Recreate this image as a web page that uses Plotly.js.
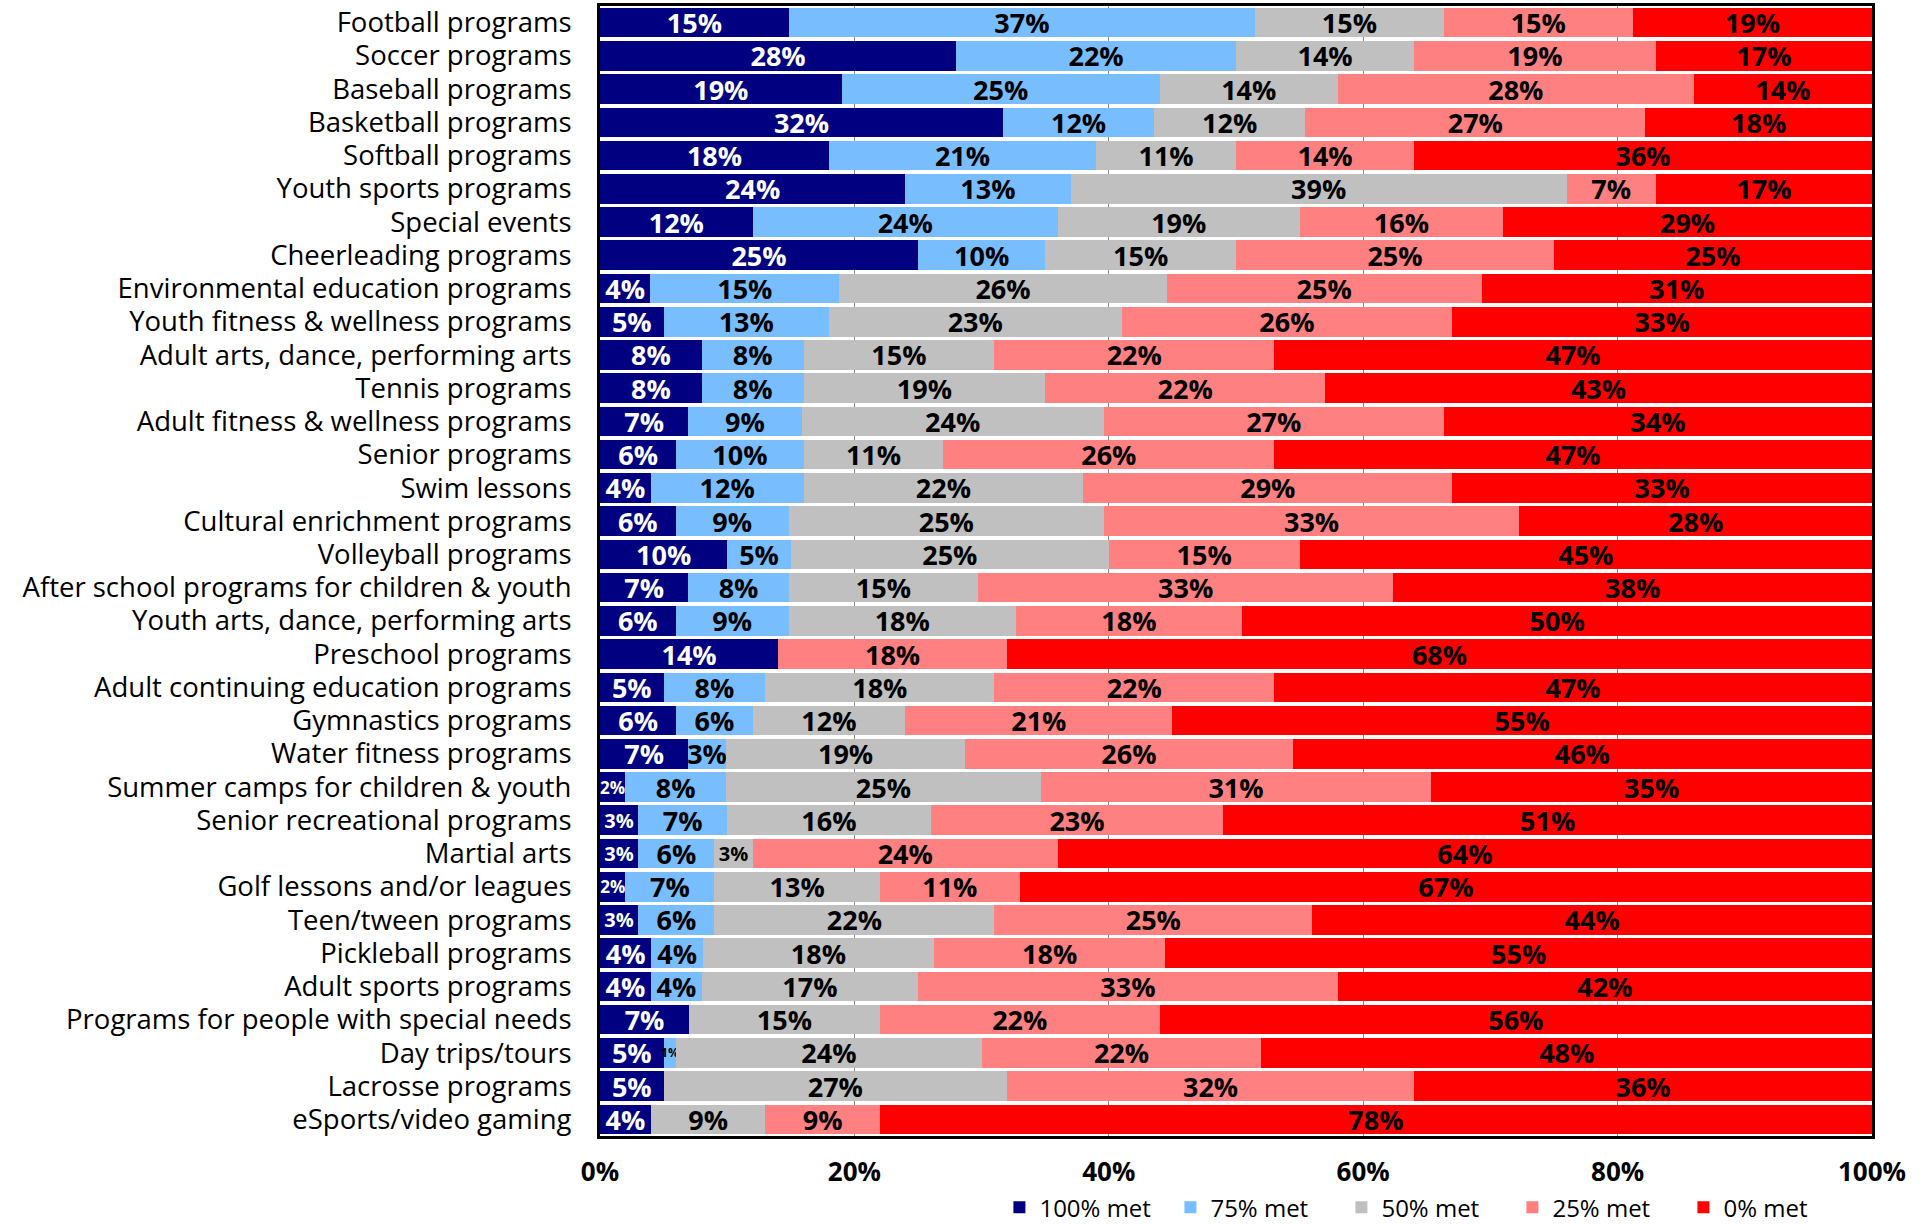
<!DOCTYPE html>
<html>
<head>
<meta charset="utf-8">
<script src="https://cdn.plot.ly/plotly-3.0.1.min.js"></script>
<style>html,body{margin:0;padding:0;background:#fff;}#chart{width:1927px;height:1224px;}</style>
</head>
<body>
<div id="chart"></div>
<script>
const categories = [
  "Football programs","Soccer programs","Baseball programs","Basketball programs","Softball programs",
  "Youth sports programs","Special events","Cheerleading programs","Environmental education programs",
  "Youth fitness & wellness programs","Adult arts, dance, performing arts","Tennis programs",
  "Adult fitness & wellness programs","Senior programs","Swim lessons","Cultural enrichment programs",
  "Volleyball programs","After school programs for children & youth","Youth arts, dance, performing arts",
  "Preschool programs","Adult continuing education programs","Gymnastics programs","Water fitness programs",
  "Summer camps for children & youth","Senior recreational programs","Martial arts",
  "Golf lessons and/or leagues","Teen/tween programs","Pickleball programs","Adult sports programs",
  "Programs for people with special needs","Day trips/tours","Lacrosse programs","eSports/video gaming"
];
const met100 = [15,28,19,32,18,24,12,25,4,5,8,8,7,6,4,6,10,7,6,14,5,6,7,2,3,3,2,3,4,4,7,5,5,4];
const met75  = [37,22,25,12,21,13,24,10,15,13,8,8,9,10,12,9,5,8,9,0,8,6,3,8,7,6,7,6,4,4,0,1,0,0];
const met50  = [15,14,14,12,11,39,19,15,26,23,15,19,24,11,22,25,25,15,18,0,18,12,19,25,16,3,13,22,18,17,15,24,27,9];
const met25  = [15,19,28,27,14,7,16,25,25,26,22,22,27,26,29,33,15,33,18,18,22,21,26,31,23,24,11,25,18,33,22,22,32,9];
const met0   = [19,17,14,18,36,17,29,25,31,33,47,43,34,47,33,28,45,38,50,68,47,55,46,35,51,64,67,44,55,42,56,48,36,78];
const seriesNames = ["100% met","75% met","50% met","25% met","0% met"];
const tickVals = [0,20,40,60,80,100];

const seriesData = [met100, met75, met50, met25, met0];
const colors = ["#000080","#78BEFF","#C0C0C0","#FF8080","#FF0000"];
const textColors = ["#FFFFFF","#000000","#000000","#000000","#000000"];
const FONT = "Open Sans, Liberation Sans, sans-serif";

// label size: full size, smaller only for very narrow segments
function labelSize(v, i) {
  if (v <= 1) return 12;
  if (v <= 2) return 17;
  if (v <= 3 && i !== 1) return 20;
  return 27;
}

const traces = seriesData.map((vals, i) => ({
  type: "bar",
  orientation: "h",
  name: seriesNames[i],
  y: categories,
  x: vals,
  text: vals.map(v => v > 0 ? v + "%" : ""),
  texttemplate: "%{text}",
  textposition: "inside",
  insidetextanchor: "middle",
  textangle: 0,
  constraintext: "none",
  textfont: {family: FONT, size: vals.map(v => labelSize(v, i)), color: textColors[i], weight: 700},
  marker: {color: colors[i], line: {width: 0}},
  hoverinfo: "skip",
  cliponaxis: false
}));

const layout = {
  width: 1927,
  height: 1224,
  paper_bgcolor: "#FFFFFF",
  plot_bgcolor: "#FFFFFF",
  barmode: "stack",
  barnorm: "percent",
  bargap: 0.11,
  margin: {l: 600, r: 55, t: 6, b: 88, autoexpand: false},
  font: {family: FONT, color: "#000000"},
  showlegend: true,
  legend: {
    orientation: "h",
    x: 0.314, xanchor: "left",
    y: -0.0635, yanchor: "middle",
    font: {family: FONT, size: 24, color: "#000000"},
    entrywidth: 126,
    traceorder: "normal",
    bgcolor: "rgba(0,0,0,0)"
  },
  xaxis: {
    range: [0, 100],
    tickvals: tickVals,
    ticktext: tickVals.map(v => v + "%"),
    tickfont: {family: FONT, size: 26, color: "#000000", weight: 700},
    showgrid: true,
    gridcolor: "#888888",
    gridwidth: 1,
    zeroline: false,
    showline: true,
    mirror: true,
    linecolor: "#000000",
    linewidth: 3,
    ticks: "",
    ticklabelstandoff: 11,
    fixedrange: true
  },
  yaxis: {
    type: "category",
    autorange: "reversed",
    tickmode: "array",
    tickvals: categories,
    ticktext: categories,
    tickfont: {family: FONT, size: 27.5, color: "#000000"},
    showgrid: false,
    zeroline: false,
    showline: true,
    mirror: true,
    linecolor: "#000000",
    linewidth: 3,
    ticks: "",
    ticklabelstandoff: 20,
    fixedrange: true
  }
};

Plotly.newPlot("chart", traces, layout, {displayModeBar: false, staticPlot: true});
</script>
</body>
</html>
